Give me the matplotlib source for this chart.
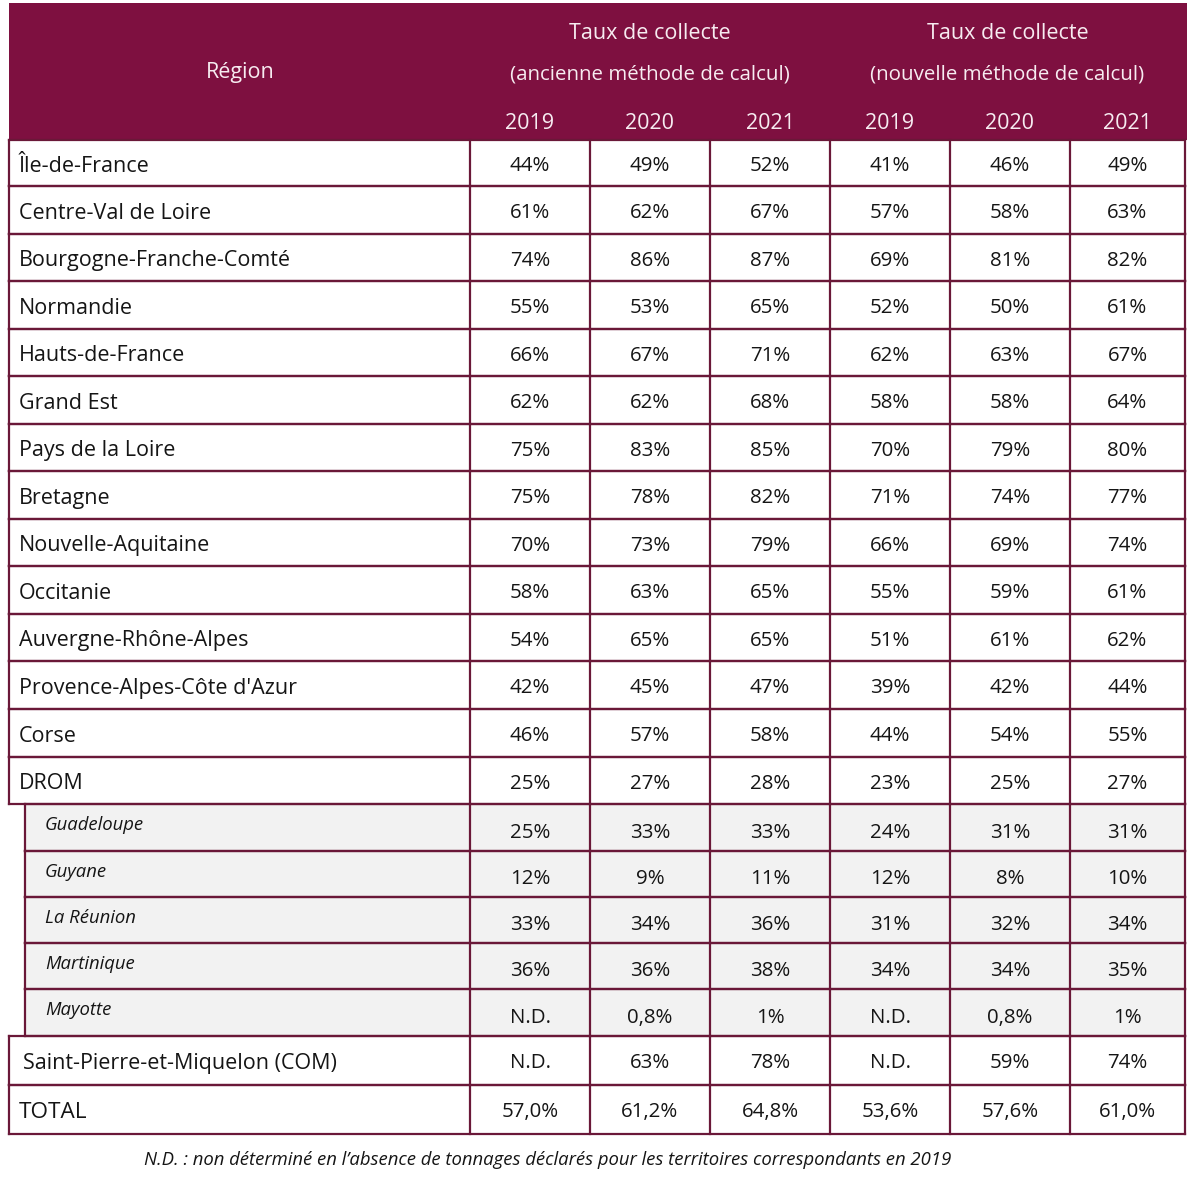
import matplotlib
matplotlib.use("Agg")
import matplotlib.pyplot as plt
from matplotlib.patches import Rectangle

plt.rcParams['font.family'] = ['Open Sans', 'DejaVu Sans']

# ---------------- data ----------------
regions = ["Île-de-France", "Centre-Val de Loire", "Bourgogne-Franche-Comté", "Normandie",
           "Hauts-de-France", "Grand Est", "Pays de la Loire", "Bretagne", "Nouvelle-Aquitaine",
           "Occitanie", "Auvergne-Rhône-Alpes", "Provence-Alpes-Côte d'Azur", "Corse", "DROM",
           "Guadeloupe", "Guyane", "La Réunion", "Martinique", "Mayotte",
           "Saint-Pierre-et-Miquelon (COM)", "TOTAL"]
is_sub = [False]*14 + [True]*5 + [False, False]
old_2019 = ["44%", "61%", "74%", "55%", "66%", "62%", "75%", "75%", "70%", "58%", "54%", "42%", "46%", "25%",
            "25%", "12%", "33%", "36%", "N.D.", "N.D.", "57,0%"]
old_2020 = ["49%", "62%", "86%", "53%", "67%", "62%", "83%", "78%", "73%", "63%", "65%", "45%", "57%", "27%",
            "33%", "9%", "34%", "36%", "0,8%", "63%", "61,2%"]
old_2021 = ["52%", "67%", "87%", "65%", "71%", "68%", "85%", "82%", "79%", "65%", "65%", "47%", "58%", "28%",
            "33%", "11%", "36%", "38%", "1%", "78%", "64,8%"]
new_2019 = ["41%", "57%", "69%", "52%", "62%", "58%", "70%", "71%", "66%", "55%", "51%", "39%", "44%", "23%",
            "24%", "12%", "31%", "34%", "N.D.", "N.D.", "53,6%"]
new_2020 = ["46%", "58%", "81%", "50%", "63%", "58%", "79%", "74%", "69%", "59%", "61%", "42%", "54%", "25%",
            "31%", "8%", "32%", "34%", "0,8%", "59%", "57,6%"]
new_2021 = ["49%", "63%", "82%", "61%", "67%", "64%", "80%", "77%", "74%", "61%", "62%", "44%", "55%", "27%",
            "31%", "10%", "34%", "35%", "1%", "74%", "61,0%"]
years = ["2019", "2020", "2021"]
group_titles = ["Taux de collecte", "Taux de collecte"]
group_subtitles = ["(ancienne méthode de calcul)", "(nouvelle méthode de calcul)"]
region_header = "Région"
footnote = "N.D. : non déterminé en l’absence de tonnages déclarés pour les territoires correspondants en 2019"

columns = [old_2019, old_2020, old_2021, new_2019, new_2020, new_2021]

# ---------------- layout ----------------
W, H = 1193, 1183
fig = plt.figure(figsize=(W/100, H/100), dpi=100)
ax = fig.add_axes([0, 0, 1, 1])
ax.set_xlim(0, W)
ax.set_ylim(H, 0)
ax.axis('off')

HEAD = "#7E1040"
LINE = "#6A1838"
HEAD_TXT = "#F7ECF1"
TXT = "#151515"
SUBBG = "#F2F2F2"

px = 72/100  # points per pixel
col_x = [470, 590, 710, 830, 950, 1070, 1185]
row_y = [140, 186, 234, 281, 329, 376, 424, 471, 519, 566, 614, 661, 709, 757, 804,
         851, 897, 943, 989, 1036, 1085, 1134]
left_main = 9
left_sub = 25
right = 1185

# header
ax.add_patch(Rectangle((9, 3), 1187-9, 140-3, facecolor=HEAD, edgecolor='none'))
ax.text(240, 72, region_header, color=HEAD_TXT, fontsize=21.5*px, weight='medium',
        ha='center', va='center')
for g in range(2):
    cx = (col_x[3*g] + col_x[3*g+3]) / 2
    ax.text(cx, 33, group_titles[g], color=HEAD_TXT, fontsize=21.5*px, weight='medium',
            ha='center', va='center')
    ax.text(cx, 74, group_subtitles[g], color=HEAD_TXT, fontsize=20.5*px, weight='medium',
            ha='center', va='center')
    for k in range(3):
        c = (col_x[3*g+k] + col_x[3*g+k+1]) / 2
        ax.text(c, 123, years[k], color=HEAD_TXT, fontsize=21.5*px, weight='medium',
                ha='center', va='center')

# rows
lw = 1.6
for i, name in enumerate(regions):
    y0, y1 = row_y[i], row_y[i+1]
    yc = (y0 + y1) / 2
    if is_sub[i]:
        lft = left_sub
        ax.add_patch(Rectangle((lft, y0), right-lft, y1-y0, facecolor=SUBBG, edgecolor='none', zorder=0))
        ax.text(45, y0 + 21, name, color=TXT, fontsize=18.5*px, style='italic', ha='left', va='center')
        vy = yc + 5
    else:
        lft = left_main
        xt = 23 if name.startswith("Saint") else 19
        fs = 22.5 if name == "TOTAL" else 21.5
        ax.text(xt, yc + 3, name, color=TXT, fontsize=fs*px, ha='left', va='center')
        vy = yc + 3
    for j, col in enumerate(columns):
        c = (col_x[j] + col_x[j+1]) / 2
        ax.text(c, vy, col[i], color=TXT, fontsize=20.5*px, ha='center', va='center')
    # borders
    ax.plot([lft, lft], [y0, y1], color=LINE, lw=lw, solid_capstyle='projecting')
    for xv in col_x:
        ax.plot([xv, xv], [y0, y1], color=LINE, lw=lw, solid_capstyle='projecting')
    ax.plot([lft, right], [y1, y1], color=LINE, lw=lw, solid_capstyle='projecting')
    ax.plot([lft, right], [y0, y0], color=LINE, lw=lw, solid_capstyle='projecting')

ax.text(548, 1160, footnote, color=TXT, fontsize=18.5*px, style='italic', ha='center', va='center')

fig.savefig("out.png", dpi=100, facecolor='white')
